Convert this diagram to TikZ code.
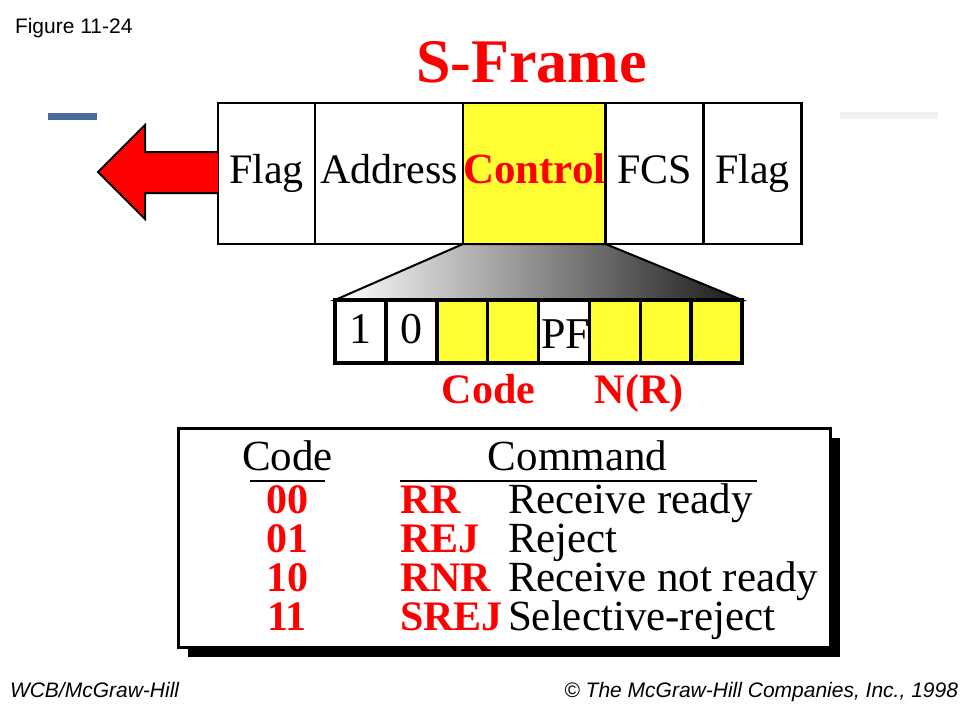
\documentclass[tikz,border=0pt]{standalone}
\usepackage{fontspec}
\setmainfont{Liberation Serif}
\newfontfamily\uifont{Liberation Sans}
\usetikzlibrary{positioning}
\definecolor{frameyellow}{HTML}{FFFF33}
\definecolor{framered}{HTML}{FF0000}
\definecolor{slideblue}{HTML}{4A6B9B}
\newcommand\fsz[1]{\fontsize{#1}{#1}\selectfont}
\newcommand\pflabel{\makebox[45pt][l]{\raisebox{-5pt}{PF}}}

\begin{document}
\begin{tikzpicture}[x=1pt, y=-1pt,
    every node/.style={inner sep=0pt, outer sep=0pt},
    field/.style={draw, line width=2.5pt, minimum height=141pt, text height=30pt, text depth=11pt, font=\fsz{42}},
    bitbox/.style={draw, line width=3.5pt, minimum width=50.875pt, minimum height=63pt, text height=23pt, text depth=0pt, font=\fsz{44}},
    redlabel/.style={text=framered, font=\fsz{42}\bfseries},
    cell/.style={font=\fsz{43}},
    footer/.style={font=\uifont\itshape\fsz{21}},
    ]
\useasboundingbox (0,0) rectangle (960,720);
\node[font=\uifont\fsz{21}, anchor=base west] (figlabel) at (15,33) {Figure 11-24};
\node[font=\fsz{62}\bfseries, text=framered, anchor=base] (title) at (531.5,82) {S-Frame};
\fill[slideblue] (48,113) rectangle (97,120);
\fill[black!6] (840,112) rectangle (938,119);

\node[field, minimum width=97pt] (flagL) at (266.5,173.5) {Flag};
\node[field, minimum width=148pt, right=0pt of flagL] (address) {Address};
\node[field, minimum width=142pt, fill=frameyellow, text=framered, font=\fsz{43}\bfseries, right=0pt of address] (control) {Control};
\node[field, minimum width=98pt, right=0pt of control] (fcs) {FCS};
\node[field, minimum width=98pt, right=0pt of fcs] (flagR) {Flag};
\filldraw[fill=framered, draw=black, line width=2pt] (218,152) -- (145,152) -- (145,125) -- (98,172) -- (145,219) -- (145,193) -- (218,193);

\coordinate (zoomL) at (335,300);
\coordinate (zoomR) at (742,300);
\draw[line width=2pt, left color=white, right color=black!90] (control.south west) -- (zoomL) -- (zoomR) -- (control.south east) -- cycle;
\foreach \txt/\shade [count=\i] in {1/white, 0/white, /frameyellow, /frameyellow, \pflabel/white, /frameyellow, /frameyellow, /frameyellow}
  \node[bitbox, fill=\shade, anchor=north west] (bit\i) at ({335+(\i-1)*50.875},300) {\txt};
\node[redlabel, anchor=base] (codelabel) at (488.5,403) {Code};
\node[redlabel, anchor=base] (nrlabel) at (639,403) {N(R)};

\fill (188,438) rectangle (840,657);
\node[draw, line width=3pt, fill=white, minimum width=652pt, minimum height=219pt] (cmdtable) at (504,537.5) {};
\node[cell, anchor=base] (codehead) at (287.5,470) {Code};
\node[cell, anchor=base] (cmdhead) at (577.5,470) {Command};
\draw[line width=2pt] (250,481) -- (325,481);
\draw[line width=2pt] (400,481) -- (757,481);
\foreach \code/\cmd/\desc [count=\i] in {00/RR/Receive ready, 01/REJ/Reject, 10/RNR/Receive not ready, 11/SREJ/Selective-reject} {
  \node[redlabel, anchor=base] (code\i) at (287,{513+(\i-1)*39.3}) {\code};
  \node[redlabel, anchor=base west] (cmd\i) at (400,{513+(\i-1)*39.3}) {\cmd};
  \node[cell, anchor=base west] (desc\i) at (508,{513+(\i-1)*39.3}) {\desc};
}

\node[footer, anchor=base west] (publisher) at (10,697) {WCB/McGraw-Hill};
\node[footer, anchor=base east] (copyright) at (958,697) {\textcopyright{} The McGraw-Hill Companies, Inc., 1998};
\end{tikzpicture}
\end{document}
